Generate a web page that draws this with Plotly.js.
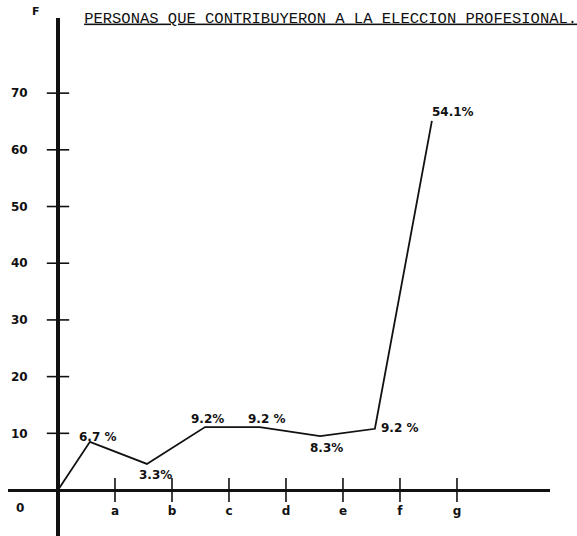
<!DOCTYPE html>
<html>
<head>
<meta charset="utf-8">
<script src="https://cdn.plot.ly/plotly-3.0.1.min.js"></script>
<style>html,body{margin:0;padding:0;background:#fff;}#chart{width:577px;height:536px;}</style>
</head>
<body>
<div id="chart"></div>
<script>
// Data
const xPositions = [0, 0.56, 1.56, 2.58, 3.54, 4.6, 5.56, 6.56];
const fValues    = [0, 8.5, 4.6, 11.1, 11.1, 9.5, 10.8, 65.1];
const pointLabels = ["", "6.7 %", "3.3%", "9.2%", "9.2 %", "8.3%", "9.2 %", "54.1%"];
const xTickVals  = [1, 2, 3, 4, 5, 6, 7];
const xTickText  = ["a", "b", "c", "d", "e", "f", "g"];
const yTickVals  = [10, 20, 30, 40, 50, 60, 70];
const yTickText  = ["10", "20", "30", "40", "50", "60", "70"];
const titleText  = "PERSONAS QUE CONTRIBUYERON A LA ELECCION PROFESIONAL.";

// Label offsets (pixels) relative to each point
const labelShiftX = [0, 8, 9, 2, 7, 6, 25, 21];
const labelShiftY = [0, 5, -11, 8, 8, -12, 1, 9];

const labFont = {family: "DejaVu Sans", size: 12, color: "#111", weight: "bold"};

const traces = [
  {
    x: xPositions, y: fValues, mode: "lines", type: "scatter",
    line: {color: "#111", width: 1.8}, hoverinfo: "skip", showlegend: false
  },
  { // tick crosses on x axis
    x: xTickVals, y: xTickVals.map(() => 0), mode: "markers", type: "scatter",
    marker: {symbol: "line-ns", size: 17, line: {color: "#111", width: 1.6}},
    hoverinfo: "skip", showlegend: false
  },
  { // tick crosses on y axis
    x: yTickVals.map(() => 0), y: yTickVals, mode: "markers", type: "scatter",
    marker: {symbol: "line-ew", size: 16, line: {color: "#111", width: 1.6}},
    hoverinfo: "skip", showlegend: false
  }
];

const annotations = [];
for (let i = 0; i < xPositions.length; i++) {
  if (!pointLabels[i]) continue;
  annotations.push({
    x: xPositions[i], y: fValues[i], xref: "x", yref: "y",
    text: pointLabels[i], showarrow: false,
    xanchor: "center", yanchor: "middle",
    xshift: labelShiftX[i], yshift: labelShiftY[i],
    font: labFont
  });
}
annotations.push({
  xref: "paper", yref: "paper", x: 0.052, y: 1.012, text: "F",
  showarrow: false, xanchor: "center", yanchor: "middle",
  font: {family: "DejaVu Sans", size: 11, color: "#111", weight: "bold"}
});
annotations.push({
  xref: "paper", yref: "paper", x: 0.022, y: 0.054, text: "0",
  showarrow: false, xanchor: "center", yanchor: "middle", font: labFont
});

const layout = {
  width: 577, height: 536,
  margin: {l: 8, r: 27, t: 18, b: 0, pad: 0},
  paper_bgcolor: "#fff", plot_bgcolor: "#fff",
  showlegend: false,
  title: {
    text: "<u>" + titleText + "</u>",
    font: {family: "Liberation Mono", size: 15.5, color: "#111"},
    xref: "container", yref: "container",
    x: 0.573, y: 0.968, xanchor: "center", yanchor: "middle"
  },
  xaxis: {
    range: [-0.877, 8.632], anchor: "free", position: 0.0888,
    showline: true, linecolor: "#111", linewidth: 3,
    showgrid: false, zeroline: false, ticks: "",
    tickmode: "array", tickvals: xTickVals, ticktext: xTickText,
    ticklabelstandoff: 9,
    tickfont: {family: "DejaVu Sans", size: 12, color: "#111", weight: "bold"},
    fixedrange: true
  },
  yaxis: {
    range: [-8.11, 83.25], anchor: "free", position: 0.0923,
    showline: true, linecolor: "#111", linewidth: 4,
    showgrid: false, zeroline: false, ticks: "",
    tickmode: "array", tickvals: yTickVals, ticktext: yTickText,
    ticklabelstandoff: 26,
    tickfont: {family: "DejaVu Sans", size: 12, color: "#111", weight: "bold"},
    fixedrange: true
  },
  annotations: annotations
};

Plotly.newPlot("chart", traces, layout, {staticPlot: true, displayModeBar: false});
</script>
</body>
</html>
